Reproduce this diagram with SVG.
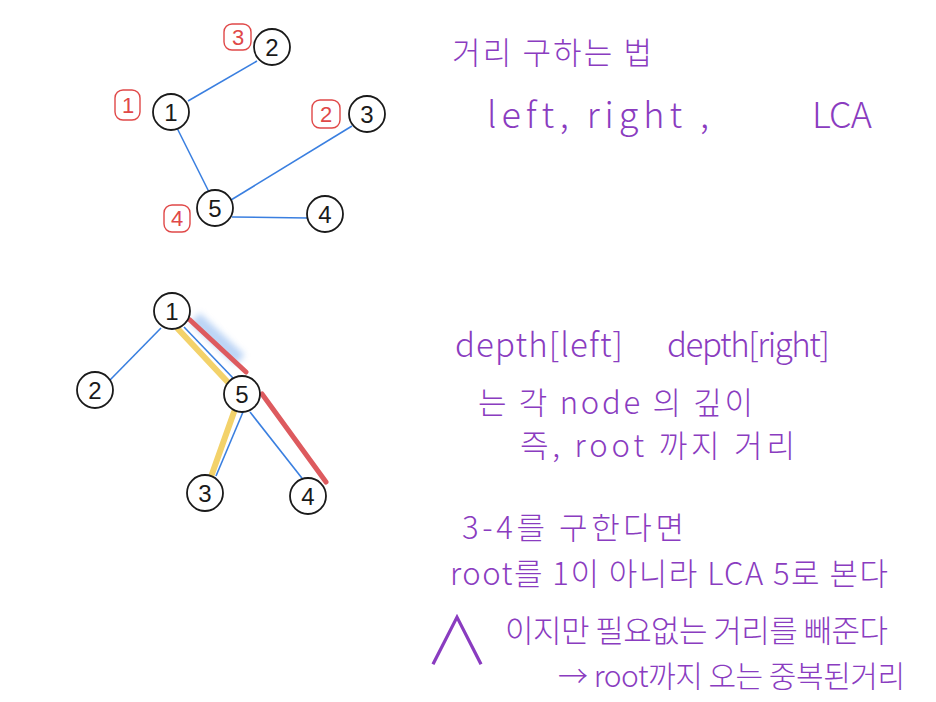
<svg xmlns="http://www.w3.org/2000/svg" width="936" height="702" viewBox="0 0 936 702">
<defs>
<filter id="blur" x="-50%" y="-50%" width="200%" height="200%"><feGaussianBlur stdDeviation="3"/></filter>
</defs>
<style>
.node circle{fill:#fff;stroke:#1a1a1a;stroke-width:1.8}
.node text{font-family:"Liberation Sans","DejaVu Sans",sans-serif;font-size:24px;fill:#1a1a1a;text-anchor:middle}
.edge{stroke:#3a7fe0;stroke-width:1.6;fill:none}
.ord rect{fill:none;stroke:#e04848;stroke-width:1.4}
.ord text{font-family:"Liberation Sans",sans-serif;font-size:22px;fill:#e04848;text-anchor:middle}
.note{font-family:"Noto Sans CJK KR","Noto Sans",sans-serif;fill:#8a3cc0;font-weight:300}
</style>
<rect width="936" height="702" fill="#fff"/>
<g id="connectors">
<line class="edge" x1="188" y1="101" x2="257" y2="61"/>
<line class="edge" x1="177" y1="128" x2="209" y2="192"/>
<line class="edge" x1="231" y1="200" x2="352" y2="126"/>
<line class="edge" x1="232" y1="217" x2="308" y2="218"/>
<path d="M195 318 L240 360" stroke="#8fb8ef" stroke-width="14" opacity="0.6" filter="url(#blur)" fill="none"/>
<path d="M178 329 L237 392 M234 412 L212 474" stroke="#f3d26a" stroke-width="6" fill="none" stroke-linecap="round"/>
<path d="M190 320 L246 372 M262 394 L326 482" stroke="#dd5a5e" stroke-width="5" fill="none" stroke-linecap="round"/>
<line class="edge" x1="161" y1="328" x2="110" y2="380"/>
<line class="edge" x1="184" y1="327" x2="233" y2="378"/>
<line class="edge" x1="243" y1="412" x2="216" y2="476"/>
<line class="edge" x1="250" y1="412" x2="305" y2="482"/>
</g>
<g id="t1" class="node"><circle cx="171" cy="112" r="18"/><text x="171" y="121">1</text></g>
<g id="t2" class="node"><circle cx="272" cy="47" r="18"/><text x="272" y="56">2</text></g>
<g id="t3" class="node"><circle cx="367" cy="114" r="18"/><text x="367" y="123">3</text></g>
<g id="t5" class="node"><circle cx="215" cy="208" r="18"/><text x="215" y="217">5</text></g>
<g id="t4" class="node"><circle cx="325" cy="214" r="18"/><text x="325" y="223">4</text></g>
<g id="o3" class="ord"><rect x="224" y="24" width="27" height="26" rx="8"/><text x="238" y="45">3</text></g>
<g id="o1" class="ord"><rect x="115" y="90" width="25" height="30" rx="8"/><text x="128" y="113">1</text></g>
<g id="o2" class="ord"><rect x="312" y="100" width="28" height="28" rx="8"/><text x="326" y="122">2</text></g>
<g id="o4" class="ord"><rect x="164" y="205" width="26" height="27" rx="8"/><text x="177" y="226">4</text></g>
<g id="b1" class="node"><circle cx="172" cy="311" r="18"/><text x="172" y="320">1</text></g>
<g id="b2" class="node"><circle cx="95" cy="390" r="18"/><text x="95" y="399">2</text></g>
<g id="b5" class="node"><circle cx="242" cy="394" r="18"/><text x="242" y="403">5</text></g>
<g id="b3" class="node"><circle cx="205" cy="493" r="18"/><text x="205" y="502">3</text></g>
<g id="b4" class="node"><circle cx="308" cy="496" r="18"/><text x="308" y="505">4</text></g>
<g id="notes">
<text class="note" x="452" y="64" font-size="31" textLength="200">거리 구하는 법</text>
<text class="note" x="487" y="128" font-size="36" textLength="222">left, right ,</text>
<text class="note" x="812" y="128" font-size="36" textLength="60">LCA</text>
<text class="note" x="455" y="357" font-size="33" textLength="168">depth[left]</text>
<text class="note" x="667" y="357" font-size="33" textLength="163">depth[right]</text>
<text class="note" x="478" y="414" font-size="31" textLength="275">는 각 node 의 깊이</text>
<text class="note" x="520" y="457" font-size="31" textLength="275">즉, root 까지 거리</text>
<text class="note" x="462" y="539" font-size="31" textLength="222">3-4를 구한다면</text>
<text class="note" x="450" y="585" font-size="31" textLength="438">root를 1이 아니라 LCA 5로 본다</text>
<text class="note" x="424" y="664" font-size="66" textLength="42">∧</text>
<text class="note" x="505" y="642" font-size="31" textLength="383">이지만 필요없는 거리를 빼준다</text>
<text class="note" x="558" y="687" font-size="30" textLength="347">→ root까지 오는 중복된거리</text>
</g>
</svg>
